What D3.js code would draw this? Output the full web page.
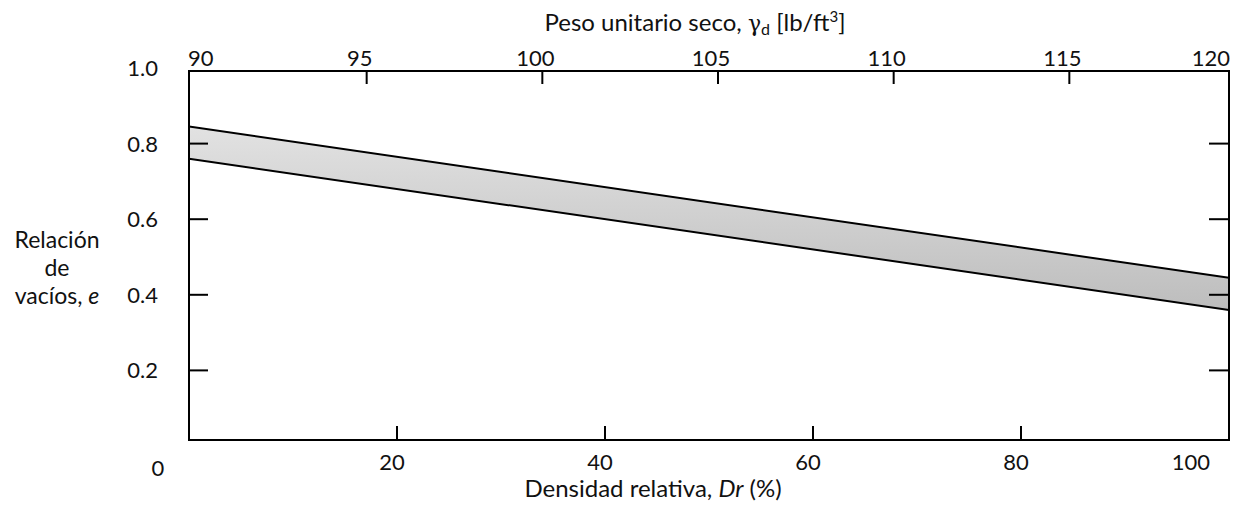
<!DOCTYPE html>
<html><head><meta charset="utf-8">
<script src="https://cdn.jsdelivr.net/npm/d3@7"></script>
<style>
html,body{margin:0;padding:0;background:#fff;}
text{font-family:Lato,"Open Sans",sans-serif;fill:#111;}
</style></head>
<body><svg id="c" width="1245" height="507"></svg>
<script>
// ---- data ----
const drTicks = [20, 40, 60, 80];
const drLabels = [20, 40, 60, 80, 100];
const gammaTicks = [90, 95, 100, 105, 110, 115, 120];
const eTicksLeft = [0.2, 0.4, 0.6, 0.8];
const eTicksRight = [0.2, 0.4, 0.6, 0.8];
const eLabels = [0.2, 0.4, 0.6, 0.8, 1.0];
const bandDr = [0, 100];
const eUpper = [0.845, 0.445];   // e_max line
const eLower = [0.76, 0.36];     // e_min line
const yTitleLines = ["Relación", "de", "vacíos, "];

// ---- layout ----
const L = 189, R = 1229, T = 71, B = 440;
const svg = d3.select("#c");
const TICKFS = 22, TITLEFS = 24;

const x = d3.scaleLinear().domain([0, 100]).range([L, R]);
const xTop = d3.scaleLinear().domain([90, 120]).range([191, 1245]);
const y = d3.scaleLinear().domain([0, 1]).range([B + 6, T - 3]);

// gradient
const defs = svg.append("defs");
const g = defs.append("linearGradient").attr("id", "bandGrad")
  .attr("x1", "0%").attr("y1", "0%").attr("x2", "0%").attr("y2", "100%");
g.append("stop").attr("offset", "0%").attr("stop-color", "#e2e2e2");
g.append("stop").attr("offset", "100%").attr("stop-color", "#bdbdbd");
defs.append("clipPath").attr("id", "clip").append("rect")
  .attr("x", L).attr("y", T).attr("width", R - L).attr("height", B - T);

// band
const bandPts = bandDr.map((d, i) => [d, eUpper[i]])
  .concat(bandDr.map((d, i) => [d, eLower[i]]).reverse());
const plot = svg.append("g").attr("clip-path", "url(#clip)");
plot.append("path")
  .attr("d", d3.line().x(d => x(d[0])).y(d => y(d[1]))(bandPts) + "Z")
  .attr("fill", "url(#bandGrad)");
const ln = d3.line().x(d => x(d[0])).y(d => y(d[1]));
[eUpper, eLower].forEach(arr => {
  plot.append("path").attr("d", ln(bandDr.map((d, i) => [d, arr[i]])))
    .attr("fill", "none").attr("stroke", "#000").attr("stroke-width", 2);
});

// frame
svg.append("rect").attr("x", L).attr("y", T).attr("width", R - L).attr("height", B - T)
  .attr("fill", "none").attr("stroke", "#000").attr("stroke-width", 2);

// bottom ticks
svg.selectAll(".bt").data(drTicks).join("line")
  .attr("x1", d => x(d)).attr("x2", d => x(d)).attr("y1", B).attr("y2", B - 14)
  .attr("stroke", "#000").attr("stroke-width", 2);
svg.selectAll(".bl").data(drLabels).join("text")
  .attr("x", d => d === 100 ? x(d) - 19 : x(d) - 5)
  .attr("y", 470).attr("text-anchor", d => d === 100 ? "end" : "middle")
  .attr("font-size", TICKFS).text(d => d);
// origin label
svg.append("text").attr("x", 158).attr("y", 476).attr("text-anchor", "middle")
  .attr("font-size", TICKFS).text("0");

// top ticks
svg.selectAll(".tt").data(gammaTicks.filter(d => xTop(d) > L + 5 && xTop(d) < R - 5)).join("line")
  .attr("x1", d => xTop(d)).attr("x2", d => xTop(d)).attr("y1", T).attr("y2", T + 13)
  .attr("stroke", "#000").attr("stroke-width", 2);
svg.selectAll(".tl").data(gammaTicks).join("text")
  .attr("x", (d, i) => i === 0 ? Math.max(xTop(d), L) - 3 : (i === gammaTicks.length - 1 ? Math.min(xTop(d), R) + 1 : xTop(d) - 7))
  .attr("y", 66)
  .attr("text-anchor", (d, i) => i === 0 ? "start" : (i === gammaTicks.length - 1 ? "end" : "middle"))
  .attr("font-size", TICKFS).text(d => d);

// left / right ticks
svg.selectAll(".lt").data(eTicksLeft).join("line")
  .attr("x1", L).attr("x2", L + 19).attr("y1", d => y(d)).attr("y2", d => y(d))
  .attr("stroke", "#000").attr("stroke-width", 2);
svg.selectAll(".rt").data(eTicksRight).join("line")
  .attr("x1", R).attr("x2", R - 20).attr("y1", d => y(d)).attr("y2", d => y(d))
  .attr("stroke", "#000").attr("stroke-width", 2);
svg.selectAll(".ll").data(eLabels).join("text")
  .attr("x", 158).attr("y", d => y(d)).attr("dy", "0.36em")
  .attr("text-anchor", "end").attr("font-size", TICKFS).text(d => d.toFixed(1));

// titles
const tt = svg.append("text").attr("x", 695).attr("y", 31).attr("text-anchor", "middle").attr("font-size", TITLEFS);
tt.append("tspan").text("Peso unitario seco, ");
tt.append("tspan").attr("font-family", "DejaVu Serif").attr("font-size", 22).text("γ");
tt.append("tspan").attr("font-size", 16).attr("dy", 4).text("d");
tt.append("tspan").attr("dy", -4).text(" [lb/ft");
tt.append("tspan").attr("font-size", 15).attr("dy", -9).text("3");
tt.append("tspan").attr("dy", 9).text("]");

const xt = svg.append("text").attr("x", 653).attr("y", 497).attr("text-anchor", "middle").attr("font-size", TITLEFS);
xt.append("tspan").text("Densidad relativa, ");
xt.append("tspan").attr("font-style", "italic").text("Dr");
xt.append("tspan").text(" (%)");

// y title as three separate text lines
const yBase = [248, 276, 304];
yTitleLines.forEach((s, i) => {
  const t = svg.append("text").attr("x", 57).attr("y", yBase[i])
    .attr("text-anchor", "middle").attr("font-size", 23);
  t.append("tspan").text(s);
  if (i === 2) t.append("tspan").attr("font-style", "italic").text("e");
});
</script></body></html>
